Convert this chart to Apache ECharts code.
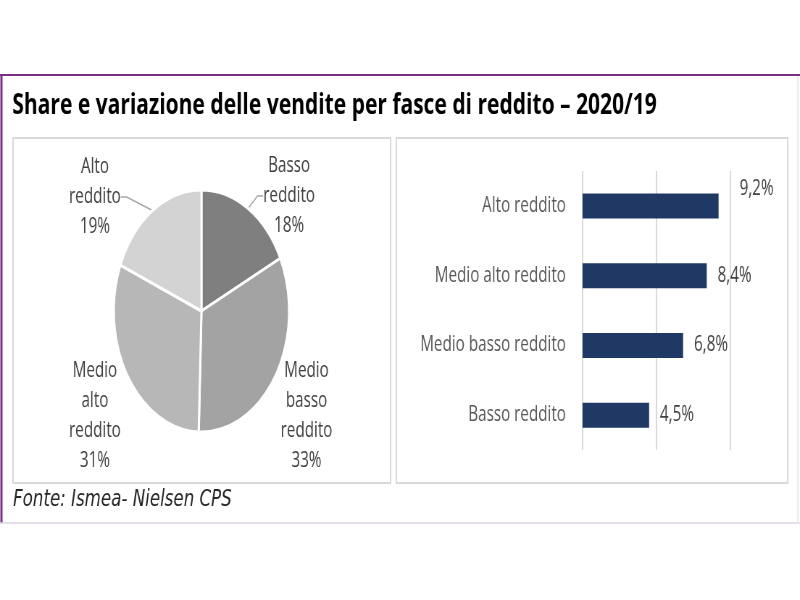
<!DOCTYPE html>
<html>
<head>
<meta charset="utf-8">
<script src="https://cdn.jsdelivr.net/npm/echarts@6/dist/echarts.min.js"></script>
<style>
html,body{margin:0;padding:0;overflow:hidden;background:#fff;}
#c{width:1104px;height:600px;transform:scaleX(0.7246);transform-origin:0 0;}
</style>
</head>
<body>
<div id="c"></div>
<script>
// ---- data ----
const titleText = 'Share e variazione delle vendite per fasce di reddito \u2013 2020/19';
const sourceText = 'Fonte: Ismea- Nielsen CPS';
const pieNames = ['Basso reddito', 'Medio basso reddito', 'Medio alto reddito', 'Alto reddito'];
const pieValues = [18, 33, 31, 19];
const barCategories = ['Alto reddito', 'Medio alto reddito', 'Medio basso reddito', 'Basso reddito'];
const barValues = [9.2, 8.4, 6.8, 4.5];

// ---- styles ----
const pieColors = ['#7f7f7f', '#a3a3a3', '#b7b7b7', '#d3d3d3'];
const pieLabelPos = [[399, 196], [423, 416], [131, 416], [131, 197]];
const pieLineShow = [true, false, false, true];
const FONT = 'Open Sans';

const chart = echarts.init(document.getElementById('c'), null, {renderer: 'canvas'});

const pieData = pieNames.map((n, i) => ({
  name: n,
  value: pieValues[i],
  itemStyle: {color: pieColors[i]},
  labelLine: {show: pieLineShow[i]}
}));

const barData = barValues.map((v, i) => i === 0
  ? {value: v, label: {offset: [14, -17]}}
  : {value: v});

chart.setOption({
  animation: false,
  backgroundColor: '#ffffff',
  graphic: [
    {type: 'line', shape: {x1: 0, y1: 75, x2: 1104, y2: 75}, style: {stroke: '#7a2f87', lineWidth: 2}},
    {type: 'line', shape: {x1: 2, y1: 74, x2: 2, y2: 523}, style: {stroke: '#7a2f87', lineWidth: 3}},
    {type: 'line', shape: {x1: 0, y1: 523, x2: 1104, y2: 523}, style: {stroke: '#ddd3e0', lineWidth: 1.5}},
    {type: 'line', shape: {x1: 1101, y1: 76, x2: 1101, y2: 523}, style: {stroke: '#eee8f0', lineWidth: 2}},
    {type: 'rect', shape: {x: 18, y: 138, width: 521, height: 345}, style: {fill: '#fff', stroke: '#d9d9d9', lineWidth: 2}},
    {type: 'rect', shape: {x: 547, y: 138, width: 540, height: 345}, style: {fill: '#fff', stroke: '#d9d9d9', lineWidth: 2}},
    {type: 'text', x: 17, y: 106, style: {text: titleText, font: 'bold 29px "Open Sans"', fill: '#000', verticalAlign: 'middle'}},
    {type: 'text', x: 18, y: 500, style: {text: sourceText, font: 'italic 23px "DejaVu Sans"', fill: '#262626', verticalAlign: 'middle'}}
  ],
  grid: {left: 804, right: 96, top: 171, bottom: 150},
  xAxis: {
    type: 'value', min: 0, max: 10, interval: 5,
    axisLabel: {show: false}, axisLine: {show: false}, axisTick: {show: false},
    splitLine: {show: true, lineStyle: {color: '#d9d9d9', width: 2}}
  },
  yAxis: {
    type: 'category', inverse: true, data: barCategories,
    axisLine: {show: false}, axisTick: {show: false},
    axisLabel: {margin: 23, color: '#595959', fontFamily: FONT, fontSize: 21}
  },
  series: [
    {
      type: 'bar', data: barData, barWidth: 25,
      itemStyle: {color: '#1f3864'},
      label: {
        show: true, position: 'right', distance: 15,
        color: '#404040', fontFamily: FONT, fontSize: 21,
        formatter: p => String(p.value).replace('.', ',') + '%'
      }
    },
    {
      type: 'pie', center: [278, 311], radius: 121, startAngle: 90, clockwise: true,
      data: pieData,
      itemStyle: {borderColor: '#fff', borderWidth: 3},
      label: {
        show: true, position: 'outside', color: '#404040', fontFamily: FONT, fontSize: 21, lineHeight: 30,
        align: 'center',
        formatter: p => p.name.split(' ').join('\n') + '\n' + p.value + '%'
      },
      labelLine: {length: 8, length2: 8, lineStyle: {color: '#a6a6a6', width: 1.5}},
      labelLayout: p => {
        const pos = pieLabelPos[p.dataIndex];
        return {x: pos[0], y: pos[1], align: 'center', verticalAlign: 'middle'};
      }
    }
  ]
});
</script>
</body>
</html>
